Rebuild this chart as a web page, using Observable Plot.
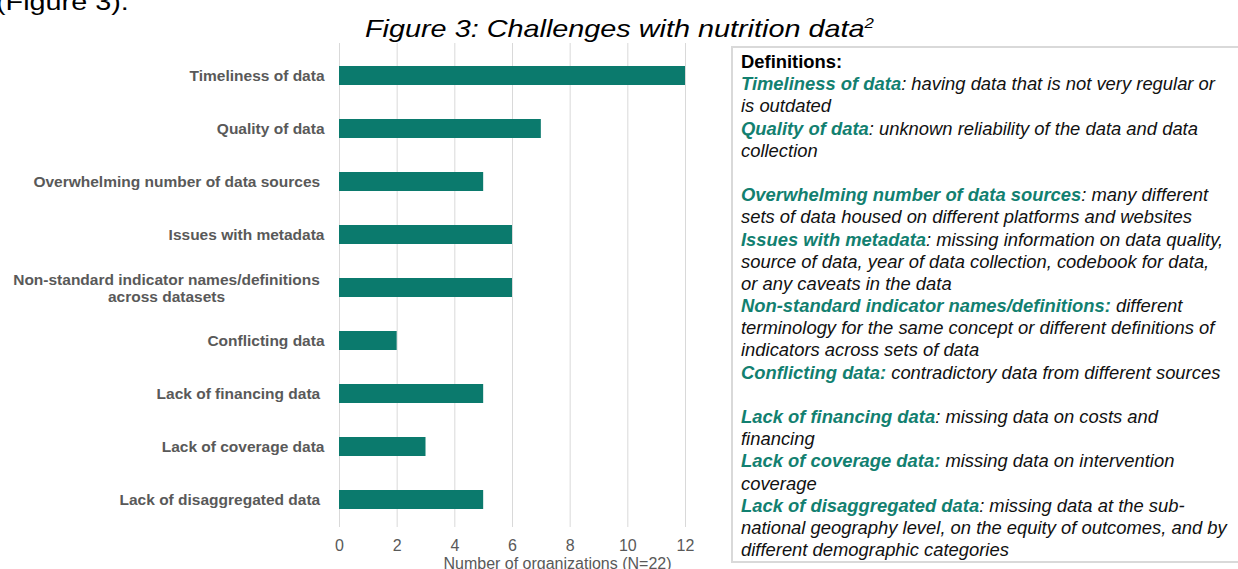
<!DOCTYPE html>
<html>
<head>
<meta charset="utf-8">
<script src="https://cdn.jsdelivr.net/npm/d3@7"></script>
<script src="https://cdn.jsdelivr.net/npm/@observablehq/plot@0.6"></script>
<style>
  html, body { margin: 0; padding: 0; background: #fff; }
  #wrap { position: relative; width: 1238px; height: 569px; overflow: hidden; font-family: Arial, "Liberation Sans", sans-serif; }
  #pre { position: absolute; left: -4px; top: -10px; font-size: 24px; line-height: 24px; color: #000; white-space: nowrap;
         transform: scaleX(1.2); transform-origin: 0 0; }
  #title { position: absolute; left: 365px; top: 17px; font-size: 24px; line-height: 24px; font-style: italic; color: #000; white-space: nowrap;
           transform: scaleX(1.2); transform-origin: 0 0; }
  #title sup { font-size: 14px; vertical-align: 9px; line-height: 0; }
  #chart { position: absolute; left: 0; top: 0; }
  #defs { position: absolute; left: 731px; top: 46px; width: 540px; height: 517px; border: 2px solid #d9d9d9; box-sizing: border-box;
          padding: 3px 0 0 8px; font-size: 18.4px; font-style: italic; color: #111; }
  #defs div { height: 22.2px; line-height: 22.2px; white-space: pre; }
  #defs .hd { font-weight: bold; font-style: normal; color: #000; }
  #defs .t { font-weight: bold; color: #128070; }
</style>
</head>
<body>
<div id="wrap">
  <div id="pre">(Figure 3).</div>
  <div id="title">Figure 3: Challenges with nutrition data<sup>2</sup></div>
  <div id="chart"></div>
  <div id="defs"></div>
</div>
<script>
// ---- data ----
const categories = [
  "Timeliness of data",
  "Quality of data",
  "Overwhelming number of data sources",
  "Issues with metadata",
  "Non-standard indicator names/definitions across datasets",
  "Conflicting data",
  "Lack of financing data",
  "Lack of coverage data",
  "Lack of disaggregated data"
];
const values = [12, 7, 5, 6, 6, 2, 5, 3, 5];
const yLabels = [
  "Timeliness of data",
  "Quality of data",
  "Overwhelming number of data sources\u00a0",
  "Issues with metadata",
  "Non-standard indicator names/definitions\nacross datasets",
  "Conflicting data",
  "Lack of financing data\u00a0",
  "Lack of coverage data",
  "Lack of disaggregated data\u00a0"
];
const xTicks = [0, 2, 4, 6, 8, 10, 12];
const xLabel = "Number of organizations (N=22)";

const defHeading = "Definitions:";
const defTerms = [
  "Timeliness of data",
  "Quality of data",
  "Overwhelming number of data sources",
  "Issues with metadata",
  "Non-standard indicator names/definitions:",
  "Conflicting data:",
  "Lack of financing data",
  "Lack of coverage data:",
  "Lack of disaggregated data"
];
const defTexts = [
  ": having data that is not very regular or\nis outdated",
  ": unknown reliability of the data and data\ncollection\n",
  ": many different\nsets of data housed on different platforms and websites",
  ": missing information on data quality,\nsource of data, year of data collection, codebook for data,\nor any caveats in the data",
  " different\nterminology for the same concept or different definitions of\nindicators across sets of data",
  " contradictory data from different sources\n",
  ": missing data on costs and\nfinancing",
  " missing data on intervention\ncoverage",
  ": missing data at the sub-\nnational geography level, on the equity of outcomes, and by\ndifferent demographic categories"
];

// ---- chart ----
const rows = categories.map((c, i) => ({category: c, value: values[i], label: yLabels[i], multi: yLabels[i].includes("\n")}));
const gray = "#595959";

const plot = Plot.plot({
  width: 720,
  height: 569,
  marginLeft: 339,
  marginRight: 35,
  marginTop: 43,
  marginBottom: 42,
  style: {fontFamily: "Arial, 'Liberation Sans', sans-serif", background: "transparent"},
  x: {domain: [0, 12]},
  y: {domain: categories, paddingInner: 0.64, paddingOuter: 0.32, insetTop: 6, axis: null},
  marks: [
    Plot.gridX(xTicks, {stroke: "#d9d9d9", strokeOpacity: 1, strokeWidth: 1}),
    Plot.axisX(xTicks, {tickSize: 0, tickPadding: 12, fontSize: 16, fill: gray, label: null}),
    Plot.barX(rows, {x: "value", y: "category", fill: "#0b7a6d"}),
    Plot.text(rows.filter(d => !d.multi), {y: "category", text: "label", frameAnchor: "left", dx: -15, textAnchor: "end",
      fontWeight: "bold", fontSize: 15.5, fill: gray}),
    Plot.text(rows.filter(d => d.multi), {y: "category", text: "label", frameAnchor: "left", dx: -173, textAnchor: "middle",
      lineHeight: 1.1, fontWeight: "bold", fontSize: 15.5, fill: gray}),
    Plot.text([xLabel], {frameAnchor: "bottom", text: d => d, dx: 45, dy: 30, lineAnchor: "top", fontSize: 16, fill: gray})
  ]
});
document.getElementById("chart").appendChild(plot);

// ---- definitions box ----
const defs = document.getElementById("defs");
function line() { const d = document.createElement("div"); defs.appendChild(d); return d; }
const hd = document.createElement("span");
hd.className = "hd";
hd.textContent = defHeading;
line().appendChild(hd);
defTerms.forEach((t, i) => {
  const parts = defTexts[i].split("\n");
  parts.forEach((p, j) => {
    const d = line();
    if (j === 0) {
      const s = document.createElement("span");
      s.className = "t";
      s.textContent = t;
      d.appendChild(s);
    }
    if (p.length) d.appendChild(document.createTextNode(p));
    else if (j > 0) d.textContent = "\u00a0";
  });
});
</script>
</body>
</html>
